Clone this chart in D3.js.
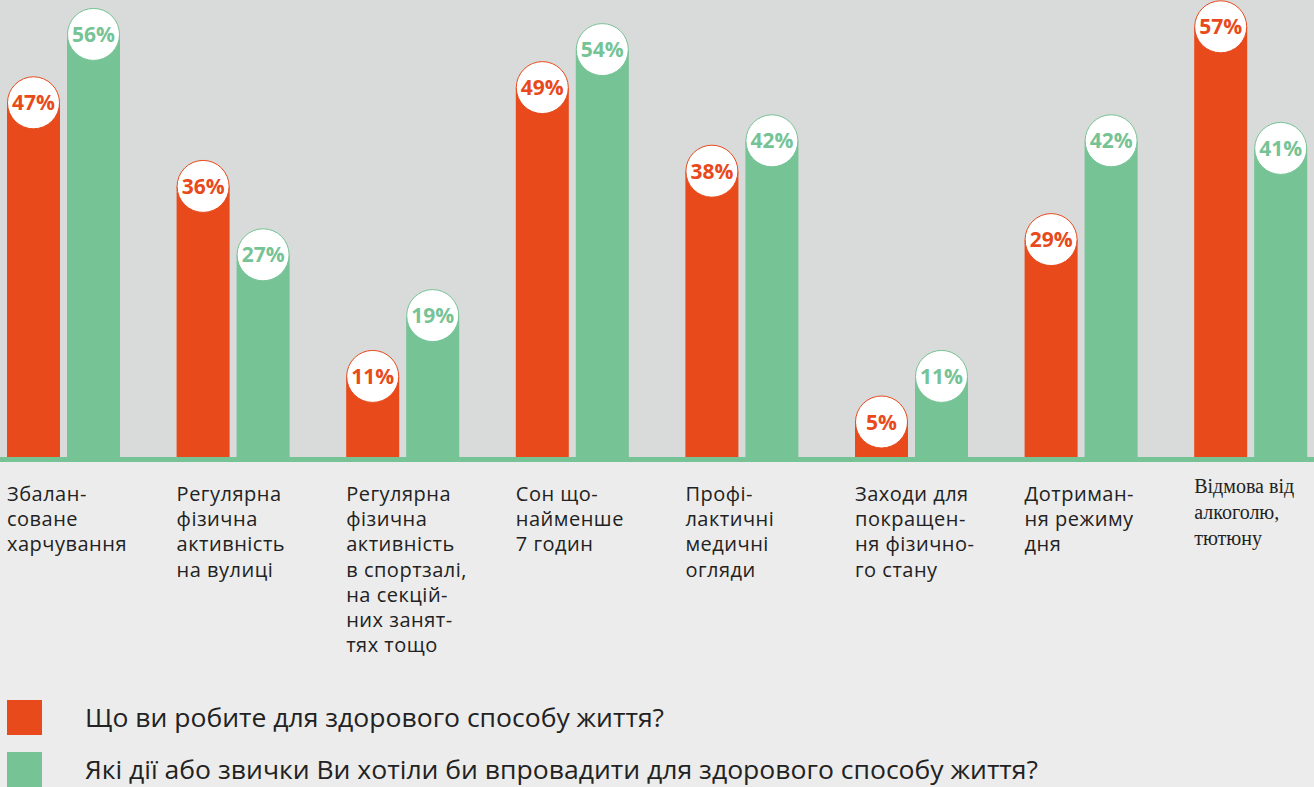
<!DOCTYPE html>
<html>
<head>
<meta charset="utf-8">
<script src="https://cdn.jsdelivr.net/npm/d3@7"></script>
<style>
  html, body { margin: 0; padding: 0; background: #ececec; }
  svg { display: block; }
</style>
</head>
<body>
<div id="chart"></div>
<script>
// categories, each split into the lines shown under the bars
var categories = [
  ["Збалан-", "соване", "харчування"],
  ["Регулярна", "фізична", "активність", "на вулиці"],
  ["Регулярна", "фізична", "активність", "в спортзалі,", "на секцій-", "них занят-", "тях тощо"],
  ["Сон що-", "найменше", "7 годин"],
  ["Профі-", "лактичні", "медичні", "огляди"],
  ["Заходи для", "покращен-", "ня фізично-", "го стану"],
  ["Дотриман-", "ня режиму", "дня"],
  ["Відмова від", "алкоголю,", "тютюну"]
];
var seriesNames = [
  "Що ви робите для здорового способу життя?",
  "Які дії або звички Ви хотіли би впровадити для здорового способу життя?"
];
var doing = [47, 36, 11, 49, 38, 5, 29, 57];
var wanting = [56, 27, 19, 54, 42, 11, 42, 41];

var width = 1314, height = 787;
var colors = ["#e84a1b", "#76c396"];
var baseY = 460;

var svg = d3.select("#chart").append("svg")
  .attr("width", width)
  .attr("height", height);

svg.append("rect")
  .attr("width", width).attr("height", height)
  .attr("fill", "#ececec");
svg.append("rect")
  .attr("width", width).attr("height", 457)
  .attr("fill", "#d9dbda");

var keys = categories.map((c, i) => i);

var x0 = d3.scaleBand()
  .domain(keys)
  .range([7, 7 + 7 * 169.6 + 113])
  .paddingInner(1 - 113 / 169.6)
  .paddingOuter(0);

var x1 = d3.scaleBand()
  .domain([0, 1])
  .range([0, x0.bandwidth()])
  .paddingInner(7 / 60);

var y = d3.scaleLinear()
  .domain([0, 57])
  .range([baseY, baseY - 57 * 7.6]);

var data = keys.map(i => [doing[i], wanting[i]]);

var groups = svg.append("g").selectAll("g")
  .data(data).enter()
  .append("g")
  .attr("transform", (d, i) => `translate(${x0(i)},0)`);

groups.selectAll("rect")
  .data(d => d.map((v, s) => ({ v: v, s: s })))
  .enter().append("rect")
  .attr("x", d => x1(d.s))
  .attr("y", d => y(d.v))
  .attr("width", x1.bandwidth())
  .attr("height", d => baseY - y(d.v))
  .attr("fill", d => colors[d.s]);

// baseline
svg.append("rect")
  .attr("x", 0).attr("y", 457)
  .attr("width", width).attr("height", 5)
  .attr("fill", "#76c396");

// value bubbles
var bubbles = groups.selectAll("g.bubble")
  .data(d => d.map((v, s) => ({ v: v, s: s })))
  .enter().append("g")
  .attr("class", "bubble")
  .attr("transform", d => `translate(${x1(d.s) + x1.bandwidth() / 2},${y(d.v)})`);

bubbles.append("circle")
  .attr("r", 26)
  .attr("fill", "#fff")
  .attr("stroke", d => colors[d.s])
  .attr("stroke-width", 1);

bubbles.append("text")
  .attr("text-anchor", "middle")
  .attr("dy", "0.36em")
  .attr("font-family", "'Open Sans', sans-serif")
  .attr("font-weight", 700)
  .attr("font-size", 21)
  .attr("fill", d => colors[d.s])
  .text(d => d.v + "%");

// category labels
groups.append("text")
  .attr("font-family", (d, i) => i === 7 ? "'Liberation Serif', serif" : "'Open Sans', sans-serif")
  .attr("font-size", (d, i) => i === 7 ? 20 : 20)
  .attr("letter-spacing", (d, i) => i === 7 ? 0 : 0.5)
  .attr("fill", "#222")
  .selectAll("tspan")
  .data((d, i) => categories[i].map(t => ({ t: t, serif: i === 7 })))
  .enter().append("tspan")
  .attr("x", 0)
  .attr("y", (d, j) => d.serif ? 493 + j * 26 : 501 + j * 25.2)
  .text(d => d.t);

// legend
var legend = svg.append("g").selectAll("g")
  .data(seriesNames).enter()
  .append("g")
  .attr("transform", (d, i) => `translate(7,${700 + i * 52})`);

legend.append("rect")
  .attr("width", 35).attr("height", 35)
  .attr("fill", (d, i) => colors[i]);

var legendWidths = [579, 953];
legend.append("text")
  .attr("x", 78)
  .attr("y", 27)
  .attr("font-family", "'Open Sans', sans-serif")
  .attr("font-size", 25)
  .attr("fill", "#222")
  .attr("textLength", (d, i) => legendWidths[i])
  .attr("lengthAdjust", "spacingAndGlyphs")
  .text(d => d);
</script>
</body>
</html>
